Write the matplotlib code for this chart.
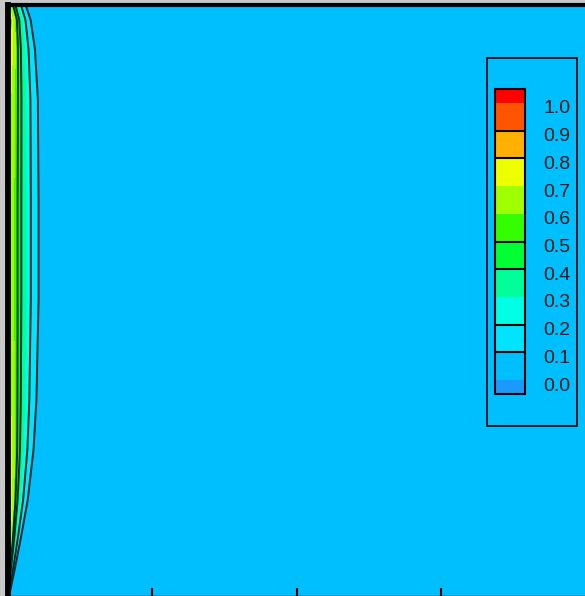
import matplotlib.pyplot as plt
import numpy as np
from matplotlib.colors import ListedColormap, BoundaryNorm
from matplotlib.patches import Rectangle
import matplotlib.transforms as mtransforms

# levels of the legend and the colour of each band (below 0, 0-0.1, ..., 0.9-1.0, above 1)
levels = [-0.05, 0.0, 0.1, 0.2, 0.3, 0.4, 0.5, 0.6, 0.7, 0.8, 0.9, 1.0, 1.05]
band_colors = ['#1a99ff', '#00bfff', '#00e4ff', '#00ffe4', '#00ff99', '#00ff33',
               '#33ff00', '#a0ff00', '#eeff00', '#ffb000', '#ff5500', '#ff0000']
tick_labels = ['0.0', '0.1', '0.2', '0.3', '0.4', '0.5', '0.6', '0.7', '0.8', '0.9', '1.0']
line_levels = [0.1, 0.2, 0.4, 0.5, 0.8, 0.9]

# wall layer: height, value at the wall, distance to the 0.1 contour
heights = [0.0, 0.04, 0.18, 0.38, 0.65, 0.99, 1.33, 2.0, 2.68, 3.36, 3.70, 3.90, 4.0]
wall_value = [0.3, 0.6, 0.8, 0.88, 0.85, 0.8, 0.75, 0.72, 0.72, 0.75, 0.82, 0.88, 0.7]
thickness = [0.007, 0.02, 0.05, 0.09, 0.14, 0.18, 0.2, 0.215, 0.215, 0.21, 0.19, 0.16, 0.125]

x = np.concatenate([np.linspace(0, 0.4, 400), np.linspace(0.41, 4.0, 60)])
y = np.linspace(0, 4, 500)
X, Y = np.meshgrid(x, y)
w = np.interp(y, heights, wall_value)[:, None]
L = np.interp(y, heights, thickness)[:, None]
p = 1.5
delta = L / np.log(10 * w) ** (1 / p)
F = w * np.exp(-(X / delta) ** p)
F = np.clip(F, 0.001, None)

cmap = ListedColormap(band_colors)
norm = BoundaryNorm(levels, cmap.N)

fig = plt.figure(figsize=(5.85, 5.96), dpi=100, facecolor='#c8c8c8')
ax = fig.add_axes([7.5 / 585, 0, 578 / 585, 591 / 596])
ax.contourf(X, Y, F, levels=levels, cmap=cmap, norm=norm)
ax.contour(X, Y, F, levels=line_levels, colors='#0a2a2a', linewidths=1.4)
ax.set_xlim(0, 4)
ax.set_ylim(0, 4)
ax.set_xticks([1, 2, 3])
ax.set_yticks([])
ax.tick_params(axis='x', direction='in', length=6, width=1.5, labelbottom=False)
ax.spines['left'].set_linewidth(4.2)
ax.spines['top'].set_linewidth(3.0)
ax.spines['bottom'].set_linewidth(1.0)
ax.spines['right'].set_visible(False)

# legend box and colour swatches
fig.add_artist(Rectangle((487 / 585, (596 - 426) / 596), 90 / 585, 368 / 596,
                         transform=fig.transFigure, fill=False, ec='black', lw=1.2))
cb = fig.add_axes([495 / 585, (596 - 394) / 596, 30 / 585, 305 / 596])
lows = np.array(levels[:-1])
highs = np.array(levels[1:])
cb.bar(0.5, highs - lows, bottom=lows, width=1.0, color=band_colors, edgecolor='none')
for lv in line_levels:
    cb.axhline(lv, color='black', lw=1.5)
cb.set_xlim(0, 1)
cb.set_ylim(levels[0], levels[-1])
cb.set_xticks([])
cb.yaxis.tick_right()
cb.set_yticks(levels[1:-1])
cb.set_yticklabels(tick_labels, family='Liberation Sans', fontsize=14, color='#1a1a1a')
cb.tick_params(axis='y', length=0, pad=13)
shift = mtransforms.ScaledTranslation(0, -4 / 100, fig.dpi_scale_trans)
for lab in cb.get_yticklabels():
    lab.set_transform(lab.get_transform() + shift)
for s in cb.spines.values():
    s.set_linewidth(1.5)

fig.savefig('out.png', dpi=100, facecolor=fig.get_facecolor())
